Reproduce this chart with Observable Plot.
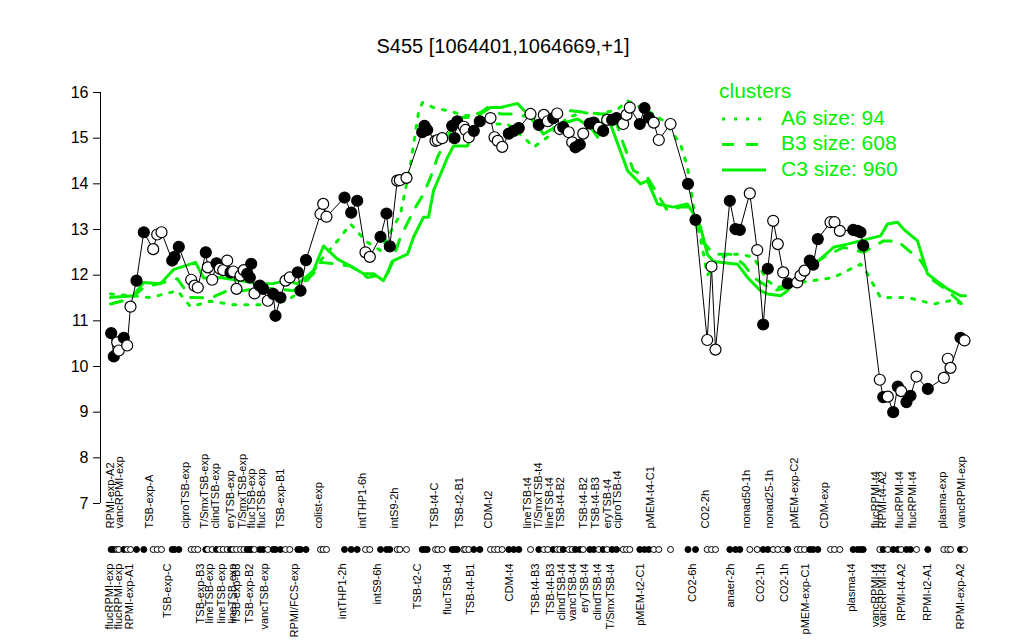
<!DOCTYPE html>
<html><head><meta charset="utf-8">
<script src="https://cdn.jsdelivr.net/npm/d3@7"></script>
<script src="https://cdn.jsdelivr.net/npm/@observablehq/plot@0.6"></script>
<style>
body{margin:0;background:#fff;font-family:"Liberation Sans",Arial,sans-serif;}
#wrap{position:relative;width:1024px;height:640px;}
#title{position:absolute;left:0;width:1006px;top:35px;text-align:center;font-size:20px;color:#000;}
#legend{position:absolute;left:0;top:0;pointer-events:none;}
</style></head><body>
<div id="wrap"><div id="title">S455 [1064401,1064669,+1]</div></div>
<script>
// ---- data ----
const pointPos = [110.7,113.3,116.7,118.3,123.3,126.7,130,136,143.3,152.7,156.7,161,171.7,174,178.3,190.7,194,197.3,205.3,207.3,211.7,216,219.3,222.7,226.7,230,232.7,236,240,243.3,246.7,249.3,250.7,254,259.3,262.7,267.3,272.7,275,280,285,289.3,297.3,300,305.5,320,322.7,326,344,350.7,356.7,365,369.3,380,386,389.3,396.7,399.3,406,421.7,424,426.7,435,437.3,441.7,451.7,454,456.7,463.3,465,468.3,473.3,479.3,490,494,497.3,501.7,508.3,513.3,518.3,530,538.3,543.3,547.3,552.7,556.7,559.3,562.7,568.3,571.7,575,579.3,582.7,589.3,593.3,598.3,602.7,606.7,611.7,616,622.7,626,629.3,639.3,644,648.3,653.3,658.3,670,687.5,695,706.7,711,715,729.3,735,739.3,749.3,756.7,762.7,767.3,772.7,777.3,782.7,787.3,796.7,800,804,809.3,812.7,817.3,830,834,839.3,852.7,857,860,862.7,879.3,882.7,887.3,892.7,897.3,900.7,906,910,916,927.3,943.3,947.3,950,960,964];
const pointVal = [10.73,10.22,10.53,10.35,10.63,10.46,11.31,11.88,12.94,12.57,12.89,12.94,12.32,12.40,12.62,11.90,11.77,11.73,12.50,12.17,11.90,12.26,12.14,12.11,12.32,12.06,12.08,11.70,11.99,12.11,12.03,11.95,12.25,11.60,11.77,11.70,11.44,11.59,11.11,11.51,11.88,11.95,12.06,11.66,12.33,13.34,13.56,13.28,13.70,13.37,13.63,12.50,12.40,12.84,13.35,12.63,14.07,14.08,14.13,15.13,15.27,15.18,14.94,14.96,15.00,15.27,15.00,15.37,15.25,15.18,15.02,15.16,15.37,15.44,15.02,14.94,14.81,15.10,15.16,15.22,15.53,15.29,15.51,15.37,15.44,15.54,15.20,15.24,15.13,14.91,14.80,14.86,15.10,15.32,15.34,15.23,15.16,15.40,15.40,15.44,15.31,15.51,15.67,15.31,15.66,15.45,15.34,14.96,15.31,14.00,13.21,10.58,12.19,10.37,13.63,13.01,12.99,13.79,12.55,10.92,12.14,13.19,12.68,12.06,11.82,11.84,11.99,12.10,12.32,12.23,12.79,13.16,13.16,12.97,12.99,12.97,12.94,12.65,9.71,9.33,9.34,9.00,9.56,9.46,9.22,9.36,9.78,9.51,9.75,10.17,9.97,10.63,10.57];
const pointFilled = [1,1,0,0,1,0,0,1,1,0,0,0,1,1,1,0,0,0,1,0,0,1,0,0,0,1,0,0,0,0,1,1,1,0,1,1,0,1,1,1,0,0,1,1,1,0,0,0,1,1,1,0,0,1,1,1,0,0,0,1,1,1,0,0,0,1,1,1,0,0,0,1,1,0,0,0,0,1,1,1,0,1,0,0,1,0,0,1,0,0,1,1,0,1,1,0,1,0,1,1,0,0,0,1,1,1,0,0,0,1,1,0,0,0,1,1,1,0,0,1,1,0,0,0,1,0,0,0,1,1,1,0,0,0,1,1,1,1,0,1,0,1,1,0,1,1,0,1,0,0,0,1,0];

const a6Pos = [110,150,177,190,210,233,260,287,300,320,337,350,365,380,400,410,418,422,433,447,467,480,493,507,527,533,547,567,583,600,617,627,653,663,680,687,693,700,707,717,727,740,753,767,777,790,813,833,860,867,880,907,933,950,963];
const a6Val = [11.59,11.51,11.66,11.31,11.43,11.35,11.35,11.44,11.66,12.32,12.75,13.12,12.75,12.54,13.34,14.43,15.56,15.78,15.67,15.60,15.49,15.56,15.31,15.31,14.94,14.80,15.02,15.45,15.56,15.53,15.63,15.82,15.53,15.38,14.87,14.36,13.50,12.80,12.00,12.32,12.46,12.46,12.39,11.88,11.73,11.81,11.88,11.95,12.24,12.03,11.51,11.51,11.37,11.44,11.37];
const b3Pos = [110,130,143,177,190,210,227,243,260,293,313,320,333,350,367,387,400,413,423,430,437,447,460,473,487,500,513,533,570,587,600,613,623,633,647,667,680,690,700,713,730,743,753,773,787,807,823,843,863,883,897,920,933,947,960];
const b3Val = [11.37,11.48,11.73,11.92,11.51,11.50,11.66,11.66,11.73,11.66,12.03,12.28,12.25,12.20,11.95,12.03,12.83,13.41,13.78,14.14,14.58,15.05,15.45,15.45,15.67,15.53,15.53,15.45,15.60,15.56,15.53,15.53,14.87,14.29,14.14,13.41,13.49,13.49,12.80,12.46,12.46,12.24,11.95,11.66,11.73,12.17,12.39,12.61,12.50,12.75,12.75,12.32,11.88,11.66,11.40];
const c3Pos = [110,133,143,160,173,195,203,220,240,257,273,287,297,305,313,323,337,350,363,373,383,393,407,413,423,428,433,440,447,453,467,480,490,500,513,517,527,543,560,577,590,597,603,610,627,640,647,657,673,687,693,700,707,713,737,747,760,767,780,787,800,813,833,847,880,887,897,903,917,927,940,947,960,965];
const c3Val = [11.51,11.55,11.84,11.81,12.12,12.28,11.94,11.95,11.88,11.81,11.82,11.88,11.81,11.95,12.10,12.64,12.35,12.20,12.03,12.03,11.88,12.32,12.46,12.83,13.27,13.27,13.85,14.21,14.58,14.83,14.83,15.53,15.67,15.67,15.74,15.76,15.53,15.09,15.31,15.42,15.24,15.02,15.45,15.31,14.29,14.00,14.07,13.56,13.49,13.56,13.34,13.05,12.45,12.30,12.24,11.95,11.66,11.59,11.55,11.66,12.03,12.21,12.61,12.68,12.86,13.12,13.16,13.01,12.75,12.03,11.81,11.70,11.55,11.55];

const topNames = ["RPMI-exp-A2","vancRPMI-exp","TSB-exp-A","ciproTSB-exp","T/SmxTSB-exp","clindTSB-exp","eryTSB-exp","T/SmxTSB-exp","flucTSB-exp","flucTSB-exp","TSB-exp-B1","colist-exp","intTHP1-6h","intS9-2h","TSB-t4-C","TSB-t2-B1","CDM-t2","lineTSB-t4","T/SmxTSB-t4","lineTSB-t4","TSB-t4-B2","TSB-t4-B2","TSB-t4-B3","eryTSB-t4","ciproTSB-t4","pMEM-t4-C1","CO2-2h","nonad50-1h","nonad25-1h","pMEM-exp-C2","CDM-exp","flucRPMI-t4","RPMI-t4-A2","flucRPMI-t4","flucRPMI-t4","plasma-exp","vancRPMI-exp"];
const topPos = [113,122,152,188,207,218,233,245,254,264,283,321,365,397,437,462,491,530,541,552,563,586,598,610,620,653,708,749,772,797,827,878,885,902,915,945,964];
const botNames = ["flucRPMI-exp","flucRPMI-exp","RPMI-exp-A1","TSB-exp-C","TSB-exp-B3","lineTSB-exp","lineTSB-exp","lineTSB-exp","TSB-exp-B3","TSB-exp-B2","vancTSB-exp","RPMI/FCS-exp","intTHP1-2h","intS9-6h","TSB-t2-C","flucTSB-t4","TSB-t4-B1","CDM-t4","TSB-t4-B3","TSB-t4-B3","clindTSB-t4","vancTSB-t4","eryTSB-t4","clindTSB-t4","T/SmxTSB-t4","pMEM-t2-C1","CO2-6h","anaer-2h","CO2-1h","CO2-1h","pMEM-exp-C1","plasma-t4","vancRPMI-t4","vancRPMI-t4","RPMI-t4-A2","RPMI-t2-A1","RPMI-exp-A2"];
const botPos = [112,121,132,170,203,212,224,235,239,252,267,297,345,380,420,450,473,512,538,553,564,575,587,600,613,643,695,733,763,787,808,854,878,885,904,930,963];

const yTicks = [7,8,9,10,11,12,13,14,15,16];
const legendTitle = "clusters";
const legendNames = ["A6 size: 94","B3 size: 608","C3 size: 960"];

// ---- build ----
const GREEN = "#00f000";
const pts = pointPos.map((p,i)=>({pos:p, v:pointVal[i], f:pointFilled[i]}));
const mk = (P,V)=>P.map((p,i)=>({pos:p, v:V[i]}));
const a6 = mk(a6Pos,a6Val), b3 = mk(b3Pos,b3Val), c3 = mk(c3Pos,c3Val);
const tops = topNames.map((n,i)=>({n, pos:topPos[i]}));
const bots = botNames.map((n,i)=>({n, pos:botPos[i]}));
const xDomain = [100, 975];

const chart = Plot.plot({
  width: 1024, height: 640,
  marginLeft: 100, marginRight: 49, marginTop: 92, marginBottom: 137,
  style: {fontFamily: '"Liberation Sans", Arial, sans-serif', fontSize: "16px", background: "white", color: "black"},
  x: {domain: xDomain, axis: null},
  y: {domain: [7,16], axis: null},
  marks: [
    Plot.ruleX([xDomain[0]], {y1: yTicks[0], y2: yTicks[yTicks.length-1], stroke: "black"}),
    Plot.axisY({ticks: yTicks, tickSize: 7, tickPadding: 5, fontSize: 16, anchor: "left", label: null}),
    Plot.line(a6, {x: "pos", y: "v", stroke: GREEN, strokeWidth: 3, strokeDasharray: "3,9"}),
    Plot.line(b3, {x: "pos", y: "v", stroke: GREEN, strokeWidth: 3, strokeDasharray: "12,12"}),
    Plot.line(c3, {x: "pos", y: "v", stroke: GREEN, strokeWidth: 3}),
    Plot.line(pts, {x: "pos", y: "v", stroke: "black", strokeWidth: 1}),
    Plot.dot(pts, {x: "pos", y: "v", r: 5.5, fill: d => d.f ? "black" : "white", stroke: "black", strokeWidth: 1.2}),
    Plot.dot(pts, {x: "pos", frameAnchor: "bottom", dy: 46, r: 3, fill: d => d.f ? "black" : "white", stroke: "black", strokeWidth: 1}),
    Plot.text(tops, {x: "pos", text: "n", frameAnchor: "bottom", dy: 25, rotate: -90, textAnchor: "start", fontSize: 11, fill: "black"}),
    Plot.text(bots, {x: "pos", text: "n", frameAnchor: "bottom", dy: 60, rotate: -90, textAnchor: "end", fontSize: 11, fill: "black"})
  ]
});
document.getElementById("wrap").appendChild(chart);

// legend overlay
const lg = d3.select("#wrap").append("svg").attr("id","legend").attr("width",1024).attr("height",640);
lg.append("text").attr("x",719).attr("y",92).attr("dominant-baseline","middle")
  .attr("font-size",21).attr("fill",GREEN).text(legendTitle);
const dashes = ["3,9","12,12",null];
legendNames.forEach((n,i)=>{
  const y = 119 + i*25.5;
  const l = lg.append("line").attr("x1",722).attr("x2",766).attr("y1",y).attr("y2",y)
    .attr("stroke",GREEN).attr("stroke-width",3);
  if (dashes[i]) l.attr("stroke-dasharray",dashes[i]);
  lg.append("text").attr("x",781).attr("y",y).attr("dominant-baseline","middle")
    .attr("font-size",21).attr("fill",GREEN).text(n);
});
</script>
</body></html>
